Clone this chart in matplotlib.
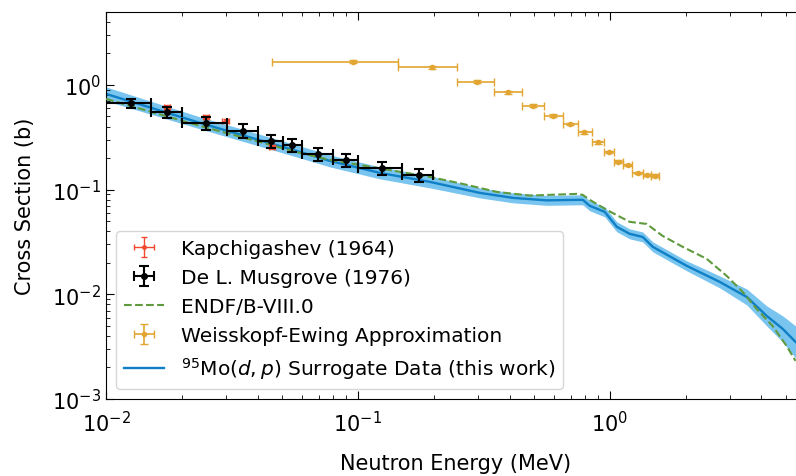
import numpy as np
import matplotlib.pyplot as plt

# Kapchigashev (1964)
kap_e = [0.01746, 0.02493, 0.0299, 0.0456]
kap_xs = [0.616, 0.495, 0.453, 0.256]

# De L. Musgrove (1976): bin centre, bin edges, cross section, rel. error
mus_e = [0.01257, 0.01746, 0.02493, 0.0350, 0.0452, 0.0547, 0.0694, 0.0896, 0.1246, 0.1746]
mus_lo = [0.0098, 0.01509, 0.02003, 0.0302, 0.0401, 0.0504, 0.0599, 0.0796, 0.1000, 0.1495]
mus_hi = [0.01509, 0.02003, 0.0302, 0.0401, 0.0504, 0.0599, 0.0796, 0.1000, 0.1495, 0.1985]
mus_xs = [0.673, 0.552, 0.434, 0.364, 0.292, 0.267, 0.219, 0.192, 0.161, 0.138]
mus_rel = [0.10, 0.12, 0.14, 0.15, 0.15, 0.14, 0.15, 0.14, 0.15, 0.15]

# Weisskopf-Ewing approximation
we_e = [0.0955, 0.1966, 0.2968, 0.3936, 0.4948, 0.594, 0.694, 0.788, 0.896, 0.991,
        1.076, 1.178, 1.291, 1.402, 1.509]
we_lo = [0.0456, 0.1442, 0.247, 0.347, 0.448, 0.547, 0.651, 0.746, 0.849, 0.946,
         1.038, 1.127, 1.223, 1.352, 1.455]
we_hi = [0.1442, 0.247, 0.347, 0.448, 0.547, 0.651, 0.746, 0.849, 0.946, 1.038,
         1.127, 1.223, 1.352, 1.455, 1.564]
we_xs = [1.669, 1.476, 1.075, 0.852, 0.634, 0.509, 0.424, 0.353, 0.283, 0.228,
         0.185, 0.172, 0.1444, 0.138, 0.136]

# ENDF/B-VIII.0
endf_e = [0.01, 0.0236, 0.05883, 0.07743, 0.1931, 0.2611, 0.3562, 0.4818, 0.7396, 0.7816,
          0.8331, 0.9727, 1.200, 1.402, 1.622, 1.949, 2.427, 2.912, 3.372, 3.830,
          4.432, 5.037, 5.47]
endf_xs = [0.735, 0.406, 0.2243, 0.1922, 0.1322, 0.1133, 0.0950, 0.0877, 0.0910, 0.0890,
           0.0798, 0.0640, 0.0492, 0.0470, 0.0361, 0.0284, 0.0218, 0.0150, 0.01054, 0.00726,
           0.00499, 0.00321, 0.00231]

# 95Mo(d,p) surrogate result with uncertainty band (multiplicative factor)
sur_e = [0.01, 0.0236, 0.05883, 0.07743, 0.1223, 0.1931, 0.3048, 0.4121, 0.5623, 0.7396,
         0.7816, 0.8331, 0.9551, 1.067, 1.200, 1.352, 1.482, 2.023, 2.735, 3.500,
         4.20, 4.86, 5.47]
sur_xs = [0.820, 0.4336, 0.2291, 0.1879, 0.1444, 0.1185, 0.0930, 0.0834, 0.0789, 0.0798,
          0.0798, 0.0700, 0.0613, 0.0441, 0.0378, 0.0353, 0.0284, 0.01868, 0.01313, 0.00944,
          0.00622, 0.00468, 0.00351]
sur_band = [1.166, 1.141, 1.141, 1.141, 1.141, 1.141, 1.116, 1.116, 1.116, 1.116,
            1.116, 1.116, 1.116, 1.116, 1.116, 1.116, 1.116, 1.116, 1.141, 1.192,
            1.246, 1.331, 1.422]

fig = plt.figure(figsize=(7.96, 4.77), dpi=100)
ax = fig.add_axes([0.1332, 0.1614, 0.879, 0.812])

sur_e = np.array(sur_e)
sur_xs = np.array(sur_xs)
sur_band = np.array(sur_band)
ax.fill_between(sur_e, sur_xs / sur_band, sur_xs * sur_band, color='#4cb2ea', alpha=0.75, lw=0, zorder=1)
h_sur, = ax.plot(sur_e, sur_xs, color='#0f7fc6', lw=1.7, zorder=2)
h_endf, = ax.plot(endf_e, endf_xs, '--', color='#5f9a3e', lw=1.5, zorder=3)

kap_e = np.array(kap_e)
kap_xs = np.array(kap_xs)
h_kap = ax.errorbar(kap_e, kap_xs, xerr=0.03 * kap_e, yerr=0.05 * kap_xs, fmt='.',
                    color='#f0492e', ms=5, elinewidth=1, capsize=2, zorder=5)

mus_e = np.array(mus_e)
mus_xs = np.array(mus_xs)
mus_xerr = [mus_e - np.array(mus_lo), np.array(mus_hi) - mus_e]
h_mus = ax.errorbar(mus_e, mus_xs, xerr=mus_xerr, yerr=np.array(mus_rel) * mus_xs, fmt='o',
                    color='black', ms=4, elinewidth=1.5, capsize=3.5, capthick=1.5, zorder=6)

we_e = np.array(we_e)
we_xs = np.array(we_xs)
we_xerr = [we_e - np.array(we_lo), np.array(we_hi) - we_e]
h_we = ax.errorbar(we_e, we_xs, xerr=we_xerr, yerr=0.03 * we_xs, fmt='o',
                   color='#e3a531', ms=3, elinewidth=1.2, capsize=3, zorder=4)

ax.set_xscale('log')
ax.set_yscale('log')
ax.set_xlim(1e-2, 6)
ax.set_ylim(1e-3, 5)
ax.tick_params(which='both', direction='in', top=True, right=True, labelsize=15)
ax.tick_params(which='major', length=6)
ax.tick_params(which='minor', length=3)
ax.tick_params(axis='x', which='major', pad=8)
ax.set_xlabel('Neutron Energy (MeV)', fontsize=15, labelpad=13)
ax.set_ylabel('Cross Section (b)', fontsize=15, labelpad=12)

ax.legend([h_kap, h_mus, h_endf, h_we, h_sur],
          ['Kapchigashev (1964)', 'De L. Musgrove (1976)', 'ENDF/B-VIII.0',
           'Weisskopf-Ewing Approximation', r'$^{95}$Mo($d,p$) Surrogate Data (this work)'],
          loc='lower left', fontsize=14.5)

fig.savefig('out.png', dpi=100)
